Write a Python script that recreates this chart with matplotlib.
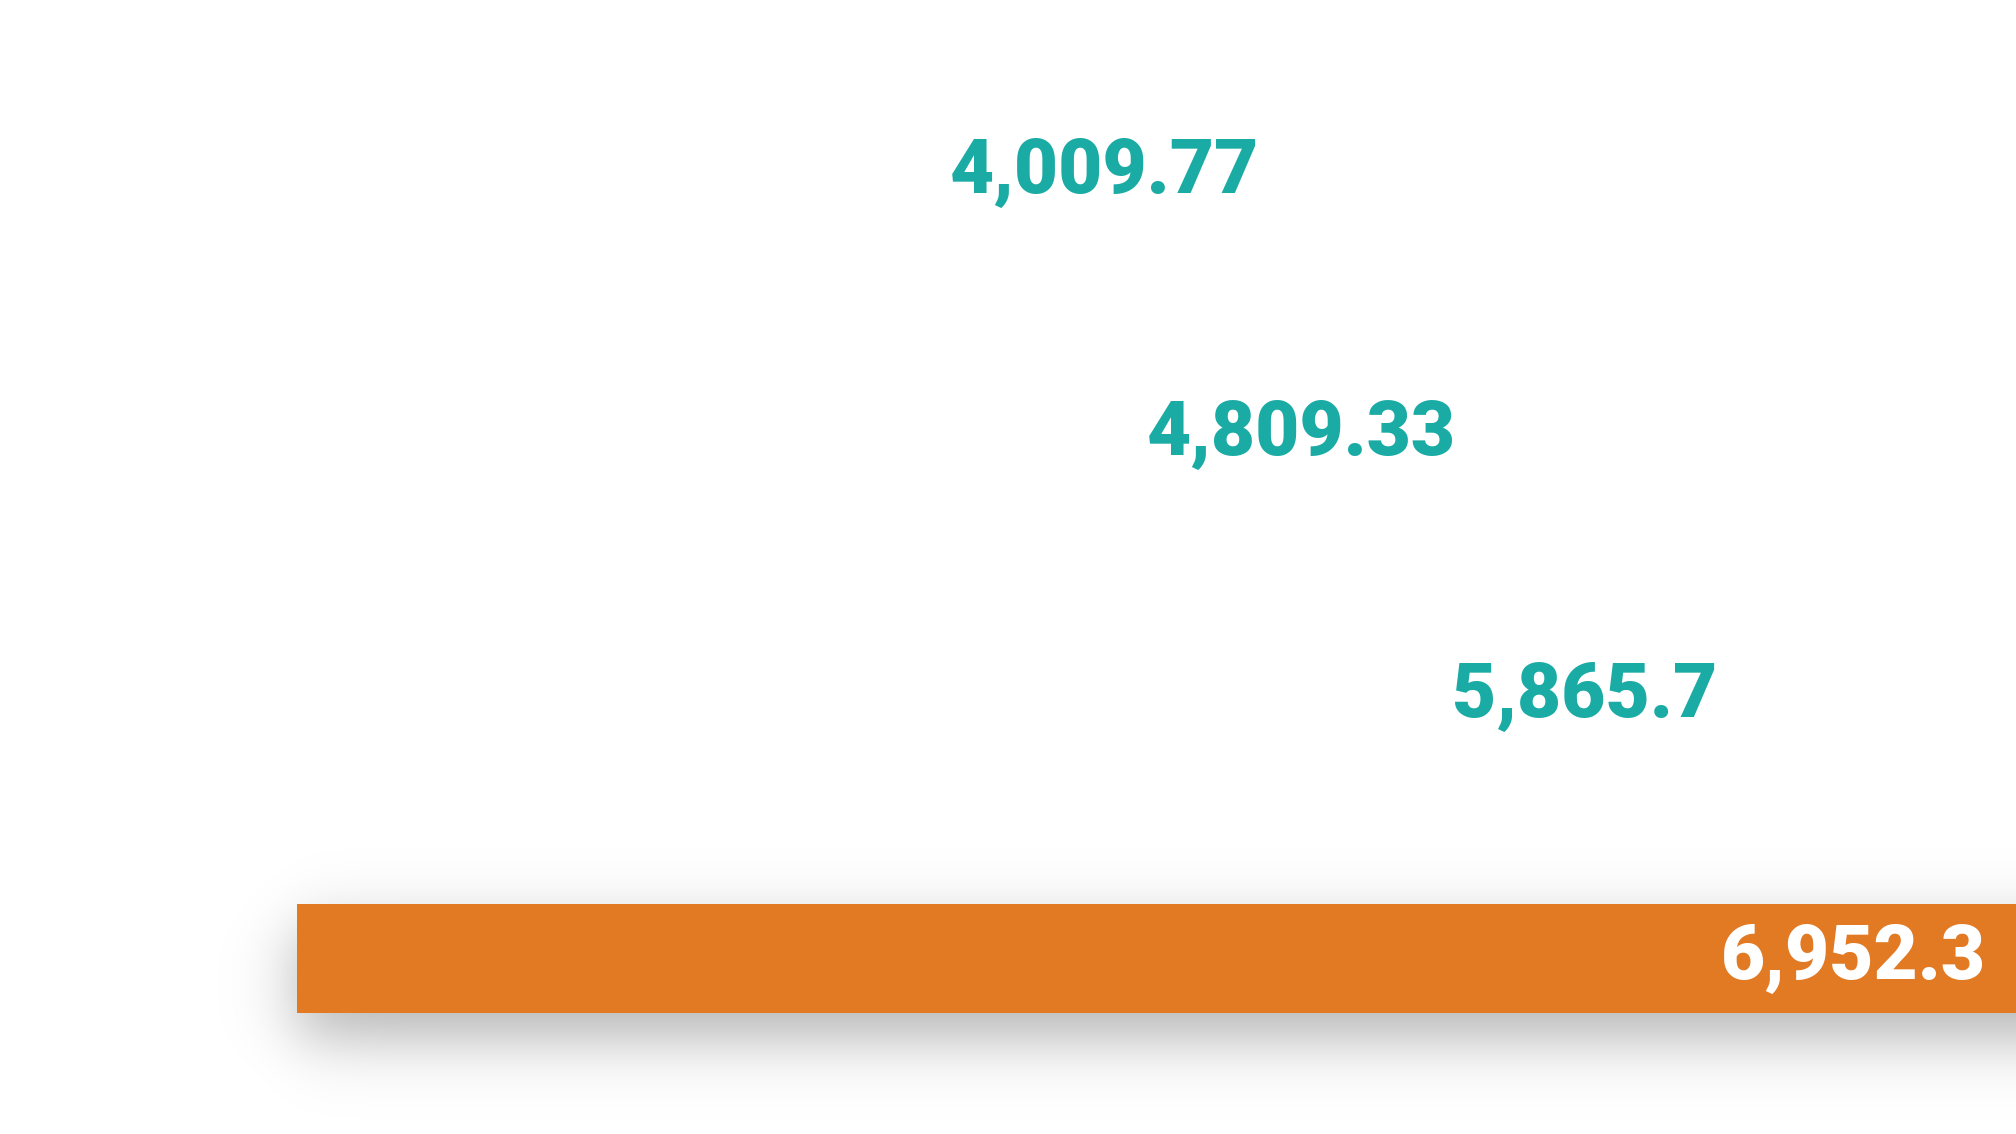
import matplotlib
matplotlib.use("Agg")
import matplotlib.pyplot as plt
import numpy as np

# data (top to bottom)
values = [4009.77, 4809.33, 5865.7, 6952.3]
labels = ["4,009.77", "4,809.33", "5,865.7", "6,952.3"]
highlight = 3

TEAL = "#1aaba5"
ORANGE = "#e27923"

plt.rcParams["font.family"] = ["Roboto", "DejaVu Sans"]

fig = plt.figure(figsize=(20.16, 11.34), dpi=100)
fig.patch.set_facecolor("white")
ax = fig.add_axes([0.1473, 0.0, 0.8527, 1.0])
ax.patch.set_visible(False)

ypos = np.arange(len(values))
colors = [ORANGE if i == highlight else "white" for i in ypos]
bars = ax.barh(ypos, values, height=0.416, color=colors, zorder=2)

ax.set_xlim(0, max(values))
ax.set_ylim(3.67, -0.658)
ax.axis("off")

for i, (v, lab) in enumerate(zip(values, labels)):
    ax.annotate(lab, xy=(v, i), xytext=(-21.5, 0), textcoords="offset points",
                ha="right", va="center", fontsize=55, fontweight="black",
                color="white" if i == highlight else TEAL, zorder=3)

# soft drop shadow under the highlighted bar
fig.canvas.draw()
bb = bars[highlight].get_window_extent()
W, H = fig.canvas.get_width_height()
sig = 32.0
dy = 25.0


def phi(z):
    return 1.0 / (1.0 + np.exp(-1.702 * z))


xs = np.arange(W) + 0.5
ys = np.arange(H) + 0.5
fx = phi((xs - bb.x0) / sig) - phi((xs - (bb.x1 + 200)) / sig)
fy = phi((ys - (bb.y0 - dy)) / sig) - phi((ys - (bb.y1 - dy)) / sig)
alpha = 0.3 * np.outer(fy, fx)
img = np.zeros((H, W, 4))
img[..., 3] = alpha
fig.figimage(img, xo=0, yo=0, origin="lower", zorder=-1)

fig.savefig("out.png", dpi=100, facecolor="white")
